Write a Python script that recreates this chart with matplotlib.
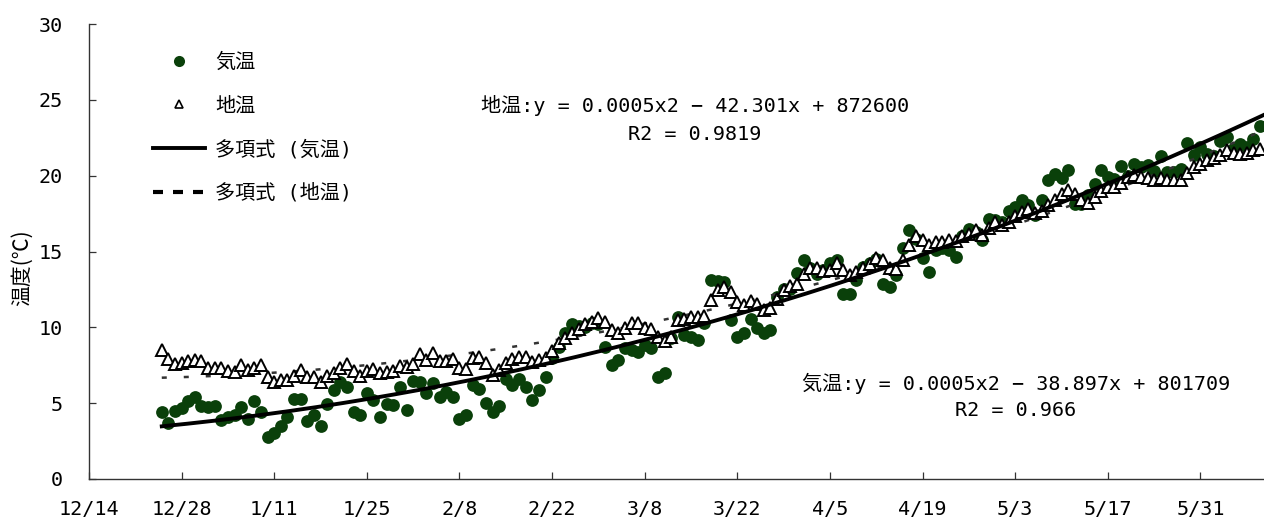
import numpy as np
import pandas as pd
import matplotlib
matplotlib.use("Agg")
import matplotlib.pyplot as plt
from matplotlib.lines import Line2D

# fixed-pitch latin with a Japanese gothic for kanji
plt.rcParams["font.family"] = ["DejaVu Sans Mono", "Noto Sans CJK JP"]

# daily observations
axis_start = pd.Timestamp("2010-12-14")
dates = pd.date_range("2010-12-25", "2011-06-09", freq="D")

air_temp = [
    4.43, 3.67, 4.48, 4.65, 5.16, 5.42, 4.81, 4.72, 4.81, 3.89,
    4.11, 4.22, 4.76, 3.93, 5.16, 4.43, 2.79, 3.01, 3.49, 4.11,
    5.27, 5.27, 3.84, 4.22, 3.51, 4.92, 5.84, 6.41, 6.06, 4.43,
    4.22, 5.67, 5.22, 4.09, 4.93, 4.87, 6.04, 4.52, 6.43, 6.41,
    5.69, 6.30, 5.38, 5.75, 5.42, 3.95, 4.22, 6.19, 5.91, 5.03,
    4.43, 4.81, 6.57, 6.19, 6.57, 6.08, 5.20, 5.86, 6.74, 8.00,
    8.70, 9.60, 10.20, 10.10, 10.00, 10.30, 10.20, 8.72, 7.51, 7.84,
    8.61, 8.50, 8.39, 8.83, 8.61, 6.74, 6.96, 9.30, 10.69, 9.49,
    9.38, 9.16, 10.30, 13.10, 13.06, 13.00, 10.47, 9.38, 9.64, 10.52,
    9.93, 9.60, 9.82, 12.00, 12.56, 12.50, 13.55, 14.47, 13.90, 13.50,
    13.80, 14.25, 14.43, 12.23, 12.19, 13.10, 14.00, 14.21, 14.50, 12.89,
    12.63, 13.45, 15.20, 16.40, 15.80, 14.54, 13.66, 15.10, 15.20, 15.09,
    14.65, 16.00, 16.51, 16.30, 15.74, 17.17, 17.06, 16.95, 17.65, 17.94,
    18.38, 18.05, 17.39, 18.42, 19.74, 20.14, 19.87, 20.36, 18.16, 18.16,
    18.70, 19.47, 20.40, 19.92, 19.81, 20.62, 20.00, 20.80, 20.57, 20.69,
    20.31, 21.28, 20.24, 20.24, 20.46, 22.15, 21.34, 21.89, 21.45, 21.30,
    22.29, 22.55, 21.80, 22.11, 21.90, 22.44, 23.30,
]

ground_temp = [
    8.50, 7.88, 7.58, 7.62, 7.77, 7.82, 7.77, 7.29, 7.29, 7.29,
    7.14, 7.07, 7.49, 7.18, 7.29, 7.51, 6.70, 6.41, 6.56, 6.56,
    6.78, 7.18, 6.74, 6.70, 6.41, 6.78, 7.00, 7.29, 7.58, 7.11,
    6.78, 7.11, 7.22, 6.96, 7.07, 7.14, 7.44, 7.36, 7.55, 8.21,
    7.84, 8.28, 7.80, 7.80, 7.88, 7.29, 7.25, 7.95, 8.06, 7.62,
    6.85, 7.18, 7.66, 7.88, 8.02, 8.06, 7.73, 7.84, 7.95, 8.43,
    8.98, 9.27, 9.64, 9.86, 10.19, 10.36, 10.63, 10.36, 9.82, 9.60,
    9.93, 10.26, 10.26, 9.93, 9.86, 9.38, 9.11, 9.38, 10.47, 10.54,
    10.65, 10.69, 10.74, 11.82, 12.45, 12.63, 12.34, 11.68, 11.46, 11.73,
    11.51, 11.13, 11.29, 11.90, 12.45, 12.74, 12.89, 13.50, 13.94, 13.88,
    13.72, 13.77, 14.21, 13.81, 13.44, 13.66, 13.88, 14.16, 14.54, 14.43,
    13.88, 13.85, 14.43, 15.42, 16.00, 15.74, 15.42, 15.63, 15.63, 15.79,
    15.70, 16.00, 16.14, 16.40, 16.07, 16.58, 16.95, 16.73, 16.95, 17.33,
    17.61, 17.77, 17.54, 17.65, 18.05, 18.42, 18.82, 19.06, 18.80, 18.38,
    18.20, 18.60, 18.99, 19.22, 19.26, 19.52, 19.92, 20.03, 19.92, 19.87,
    19.70, 19.87, 19.70, 19.74, 19.70, 20.18, 20.57, 20.80, 21.06, 21.19,
    21.34, 21.67, 21.50, 21.45, 21.50, 21.67, 21.78,
]

tick_labels = ["12/14", "12/28", "1/11", "1/25", "2/8", "2/22", "3/8",
               "3/22", "4/5", "4/19", "5/3", "5/17", "5/31"]
y_ticks = [0, 5, 10, 15, 20, 25, 30]

air_eq = "気温:y = 0.0005x2 − 38.897x + 801709"
air_r2 = "R2 = 0.966"
ground_eq = "地温:y = 0.0005x2 − 42.301x + 872600"
ground_r2 = "R2 = 0.9819"

GREEN = "#0a400a"
FS = 14.5

days = (dates - axis_start).days.to_numpy().astype(float)
air = np.asarray(air_temp)
ground = np.asarray(ground_temp)

# second-order polynomial trend lines
x_max = 177.6
x_fit = np.linspace(days[0], x_max, 300)
air_fit = np.polyval(np.polyfit(days, air, 2), x_fit)
ground_fit = np.polyval(np.polyfit(days, ground, 2), x_fit)

fig = plt.figure(figsize=(12.64, 5.24), dpi=100)
ax = fig.add_axes([89 / 1264, 45 / 524, 1 - 89 / 1264, 455 / 524])

ax.plot(days, air, "o", color=GREEN, ms=9.2, mew=0, zorder=2)
ax.plot(x_fit, ground_fit, color="#333333", lw=1.8, dashes=(2.0, 6.8), zorder=2.5)
ax.plot(days, ground, "^", ms=9.0, mfc="white", mec="black", mew=1.4, zorder=3)
ax.plot(x_fit, air_fit, color="black", lw=2.8, zorder=4)

ax.set_xlim(0, x_max)
ax.set_ylim(0, 30)
ax.set_xticks(np.arange(len(tick_labels)) * 14)
ax.set_xticklabels(tick_labels)
ax.set_yticks(y_ticks)

for side in ("top", "right"):
    ax.spines[side].set_visible(False)
for side in ("left", "bottom"):
    ax.spines[side].set_color("#333333")
    ax.spines[side].set_linewidth(1.0)

ax.tick_params(axis="x", direction="in", length=5, width=0.9, color="#333333",
               labelsize=FS, pad=15)
ax.tick_params(axis="y", direction="in", length=5, width=0.9, color="#333333",
               labelsize=FS, pad=19)

fig.text(22 / 1264, 1 - 268 / 524, "温度(℃)", rotation=90, ha="center",
         va="center", fontsize=15, family=["Noto Sans CJK JP", "DejaVu Sans"])

fig.text(695 / 1264, 1 - 105 / 524, ground_eq, ha="center", va="center", fontsize=FS)
fig.text(695 / 1264, 1 - 135 / 524, ground_r2, ha="center", va="center", fontsize=FS)
fig.text(1016 / 1264, 1 - 383 / 524, air_eq, ha="center", va="center", fontsize=FS)
fig.text(1016 / 1264, 1 - 411 / 524, air_r2, ha="center", va="center", fontsize=FS)

handles = [
    Line2D([], [], ls="none", marker="o", ms=8, color=GREEN, mew=0),
    Line2D([], [], ls="none", marker="^", ms=6, mfc="white", mec="black", mew=1.2),
    Line2D([], [], color="black", lw=2.8),
    Line2D([], [], color="black", lw=3.0, dashes=(2.4, 2.4)),
]
labels = ["気温", "地温", "多項式 (気温)", "多項式 (地温)"]
ax.legend(handles, labels, loc="upper left", bbox_to_anchor=(153 / 1264, 1 - 53 / 524),
          bbox_transform=fig.transFigure, frameon=False, fontsize=FS,
          handlelength=2.58, handletextpad=0.5, labelspacing=1.2, borderpad=0,
          borderaxespad=0)

fig.savefig("out.png", dpi=100)
